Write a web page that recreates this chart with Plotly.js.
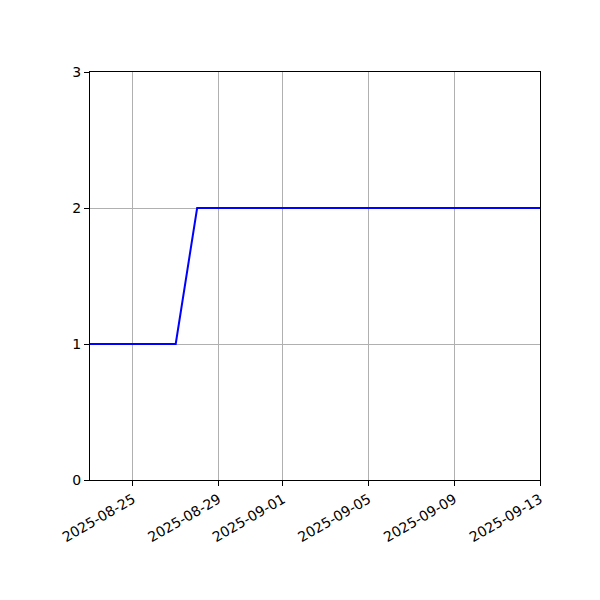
<!DOCTYPE html>
<html>
<head>
<meta charset="utf-8">
<script src="https://cdn.plot.ly/plotly-3.0.1.min.js"></script>
<style>
  html, body { margin: 0; padding: 0; background: #fff; }
  #chart { width: 600px; height: 600px; }
</style>
</head>
<body>
<div id="chart"></div>
<script>
// daily counts
const dates = [
    '2025-08-23', '2025-08-24', '2025-08-25', '2025-08-26', '2025-08-27',
    '2025-08-28', '2025-08-29', '2025-08-30', '2025-08-31', '2025-09-01',
    '2025-09-02', '2025-09-03', '2025-09-04', '2025-09-05', '2025-09-06',
    '2025-09-07', '2025-09-08', '2025-09-09', '2025-09-10', '2025-09-11',
    '2025-09-12', '2025-09-13'
];
const counts = [1, 1, 1, 1, 1, 2, 2, 2, 2, 2, 2, 2, 2, 2, 2, 2, 2, 2, 2, 2, 2, 2];

const xTicks = ['2025-08-25', '2025-08-29', '2025-09-01', '2025-09-05', '2025-09-09', '2025-09-13'];
const yTicks = [0, 1, 2, 3];

const axisCommon = {
    showline: true, linecolor: '#000', linewidth: 1, mirror: true,
    ticks: 'outside', ticklen: 5, tickcolor: '#000', tickwidth: 1,
    showgrid: true, gridcolor: '#b0b0b0', gridwidth: 1,
    zeroline: false,
    tickfont: { family: 'DejaVu Sans', size: 14, color: '#000' }
};

Plotly.newPlot('chart', [{
    x: dates, y: counts, type: 'scatter', mode: 'lines',
    line: { color: '#0000ff', width: 2 }, hoverinfo: 'none'
}], {
    width: 600, height: 600,
    margin: { l: 90, r: 60, t: 72, b: 120 },
    paper_bgcolor: '#fff', plot_bgcolor: '#fff',
    showlegend: false,
    xaxis: Object.assign({}, axisCommon, {
        type: 'date',
        range: ['2025-08-23', '2025-09-13'],
        tickmode: 'array', tickvals: xTicks, ticktext: xTicks,
        tickangle: -30
    }),
    yaxis: Object.assign({}, axisCommon, {
        range: [0, 3],
        tickmode: 'array', tickvals: yTicks
    })
}, { staticPlot: true });
</script>
</body>
</html>
